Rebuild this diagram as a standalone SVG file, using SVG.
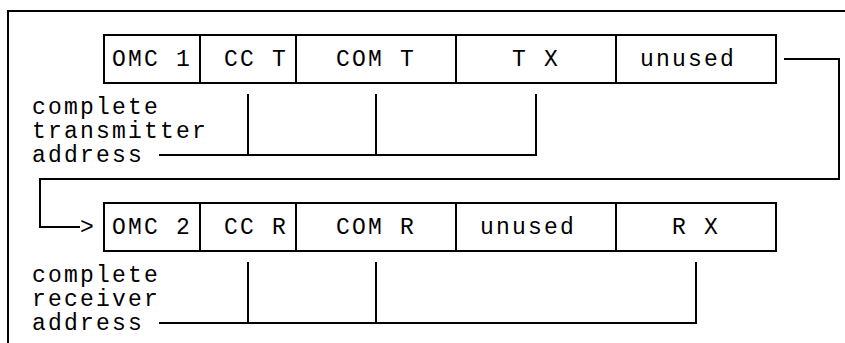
<svg xmlns="http://www.w3.org/2000/svg" width="845" height="343" viewBox="0 0 845 343">
<style>
.ln{fill:none;stroke:#000;stroke-width:2;stroke-linecap:square}
.cell{fill:#fff;stroke:#000;stroke-width:2}
text{font-family:"Liberation Mono","DejaVu Sans Mono",monospace;font-size:23px;letter-spacing:2.2px;fill:#000}
</style>
<rect width="845" height="343" fill="#fff"/>
<g id="frame">
<path class="ln" d="M8,343 V11 H845"/>
</g>
<g id="transmitter-address">
<g id="tx-omc1"><rect class="cell" x="104" y="35" width="96" height="48"/><text x="112" y="66">OMC 1</text></g>
<g id="tx-cct"><rect class="cell" x="200" y="35" width="96" height="48"/><text x="224" y="66">CC T</text></g>
<g id="tx-comt"><rect class="cell" x="296" y="35" width="160" height="48"/><text x="336" y="66">COM T</text></g>
<g id="tx-tx"><rect class="cell" x="456" y="35" width="160" height="48"/><text x="512" y="66">T X</text></g>
<g id="tx-unused"><rect class="cell" x="616" y="35" width="160" height="48"/><text x="640" y="66">unused</text></g>
</g>
<g id="receiver-address">
<g id="rx-omc2"><rect class="cell" x="104" y="203" width="96" height="48"/><text x="112" y="234">OMC 2</text></g>
<g id="rx-ccr"><rect class="cell" x="200" y="203" width="96" height="48"/><text x="224" y="234">CC R</text></g>
<g id="rx-comr"><rect class="cell" x="296" y="203" width="160" height="48"/><text x="336" y="234">COM R</text></g>
<g id="rx-unused"><rect class="cell" x="456" y="203" width="160" height="48"/><text x="480" y="234">unused</text></g>
<g id="rx-rx"><rect class="cell" x="616" y="203" width="160" height="48"/><text x="672" y="234">R X</text></g>
</g>
<g id="label-transmitter">
<text x="32" y="114">complete</text>
<text x="32" y="138">transmitter</text>
<text x="32" y="162">address</text>
</g>
<g id="label-receiver">
<text x="32" y="282">complete</text>
<text x="32" y="306">receiver</text>
<text x="32" y="330">address</text>
</g>
<g id="connectors">
<path class="ln" d="M248,95 V155 M376,95 V155 M160,155 H536 V95"/>
<path class="ln" d="M248,263 V323 M376,263 V323 M160,323 H696 V263"/>
<path class="ln" d="M785,59 H839 V179 H40 V227 H79"/>
<text x="80" y="234">&gt;</text>
</g>
</svg>
